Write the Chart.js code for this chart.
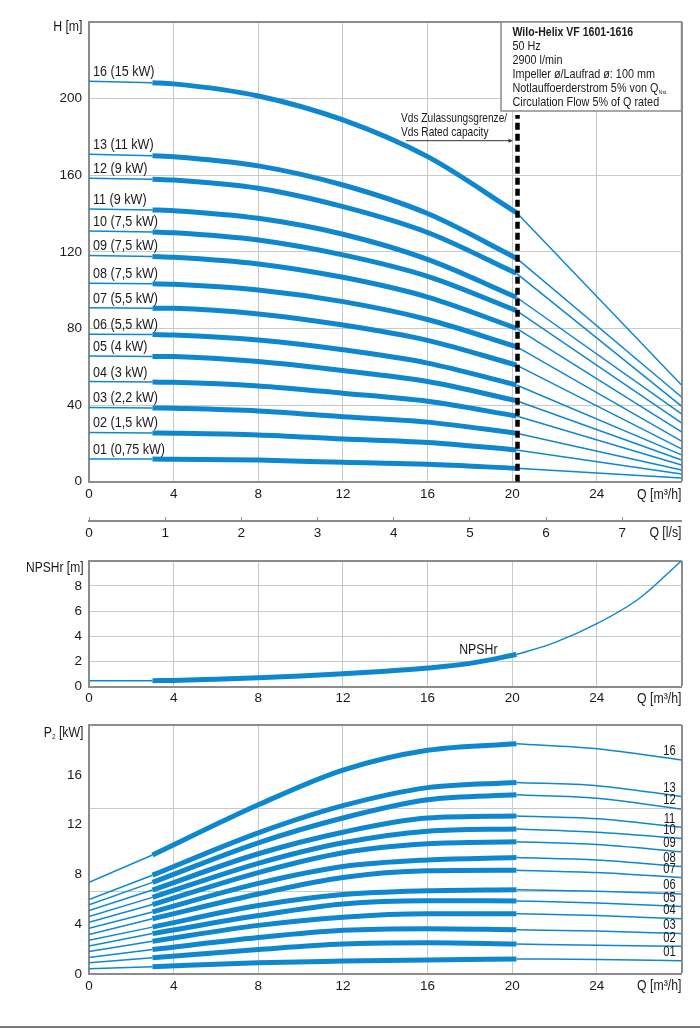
<!DOCTYPE html>
<html><head><meta charset="utf-8">
<script src="https://cdn.jsdelivr.net/npm/chart.js@4"></script>
<style>
html,body{margin:0;padding:0;background:#fff;}
body{width:700px;height:1029px;position:relative;overflow:hidden;}
canvas{position:absolute;left:0;}
#rule{position:absolute;left:0;top:1026px;width:700px;height:2px;background:#7a7a7a;}
</style></head><body>
<canvas id="cH" width="700" height="510" style="top:0px"></canvas>
<canvas id="cL" width="700" height="45" style="top:505px"></canvas>
<canvas id="cN" width="700" height="170" style="top:540px"></canvas>
<canvas id="cP" width="700" height="300" style="top:710px"></canvas>
<div id="rule"></div>
<script>
// ---------------- DATA ----------------
const pumpNames  = ['01','02','03','04','05','06','07','08','09','10','11','12','13','16'];
const motorPower = ['0,75','1,5','2,2','3','4','5,5','5,5','7,5','7,5','7,5','9','9','11','15'];

// Q axis [m3/h]
const qTicks   = [0, 4, 8, 12, 16, 20, 24];
const Q_MAX    = 28;
const lpsTicks = [0, 1, 2, 3, 4, 5, 6, 7];
const Q_MIN_FLOW = 3;     // start of bold (operating) range
const Q_RATED    = 20.2;  // end of bold range
const Q_VDS      = 20.25; // Vds rated capacity line
const VDS_TOP    = 191.5; // top of Vds line [m]

// Head H [m] read at these flows
const qHead  = [0, 3, 4, 8, 12, 16, 20.2, 28];
const head01 = [11.9, 11.8, 11.7, 11.3, 10.1, 9.1, 7.0, 1.9];
const head02 = [25.7, 25.4, 25.3, 24.4, 22.3, 20.5, 16.6, 4.0];
const head03 = [38.8, 38.5, 38.3, 36.9, 33.9, 31.1, 25.3, 6.1];
const head04 = [52.3, 52.0, 51.9, 50.0, 46.2, 42.0, 34.3, 8.7];
const head05 = [65.6, 65.4, 65.3, 62.7, 58.0, 52.3, 42.3, 11.3];
const head06 = [77.0, 76.8, 76.6, 74.0, 68.9, 61.9, 50.5, 14.0];
const head07 = [90.8, 90.6, 90.5, 87.6, 81.8, 73.8, 60.9, 17.1];
const head08 = [103.6, 103.3, 103.1, 100.1, 94.0, 84.7, 70.5, 21.2];
const head09 = [118.1, 117.6, 117.2, 113.7, 106.7, 96.4, 80.1, 26.0];
const head10 = [130.9, 130.4, 130.0, 126.2, 118.4, 107.2, 89.3, 30.7];
const head11 = [142.4, 141.9, 141.5, 137.5, 129.2, 116.1, 96.3, 35.4];
const head12 = [158.4, 157.9, 157.5, 153.2, 143.6, 130.1, 108.8, 39.5];
const head13 = [171.0, 170.2, 169.7, 164.9, 154.9, 140.0, 116.7, 44.2];
const head16 = [209.1, 208.3, 207.7, 201.4, 188.9, 169.7, 140.5, 50.5];
const hTicks = [0, 40, 80, 120, 160, 200];
const H_MAX  = 240;

// NPSHr [m]
const qNpsh  = [0, 3, 4, 6, 8, 10, 12, 14, 16, 18, 20.2, 22, 24, 26, 28];
const npshr  = [0.48, 0.48, 0.5, 0.6, 0.71, 0.85, 1.02, 1.22, 1.48, 1.85, 2.55, 3.5, 5.0, 7.0, 10.0];
const npshTicks = [0, 2, 4, 6, 8];
const NPSH_MAX  = 10;

// Power P2 [kW]
const qPower  = [0, 3, 8, 12, 16, 20.2, 24, 28];
const power01 = [0.44, 0.60, 0.92, 1.05, 1.15, 1.22, 1.19, 1.08];
const power02 = [0.92, 1.32, 1.98, 2.42, 2.52, 2.42, 2.32, 2.25];
const power03 = [1.35, 1.98, 2.94, 3.52, 3.65, 3.57, 3.46, 3.26];
const power04 = [1.82, 2.64, 3.92, 4.58, 4.85, 4.85, 4.71, 4.45];
const power05 = [2.27, 3.26, 4.71, 5.64, 5.90, 5.88, 5.72, 5.43];
const power06 = [2.72, 3.78, 5.51, 6.39, 6.70, 6.78, 6.65, 6.44];
const power07 = [3.18, 4.45, 6.44, 7.76, 8.30, 8.35, 8.16, 7.76];
const power08 = [3.68, 5.00, 7.29, 8.64, 9.17, 9.36, 9.17, 8.64];
const power09 = [4.16, 5.59, 8.16, 9.75, 10.47, 10.63, 10.42, 9.83];
const power10 = [4.64, 6.17, 8.90, 10.55, 11.48, 11.66, 11.40, 10.90];
const power11 = [5.11, 6.76, 9.67, 11.40, 12.54, 12.70, 12.49, 11.80];
const power12 = [5.57, 7.37, 10.55, 12.54, 14.00, 14.40, 14.13, 13.26];
const power13 = [5.99, 7.95, 11.35, 13.53, 14.98, 15.40, 15.14, 14.27];
const power16 = [7.37, 9.57, 13.60, 16.39, 17.98, 18.50, 18.10, 17.19];
const pTicks    = [0, 4, 8, 12, 16];
const pGrid     = [6.67, 13.33];
const P_MAX     = 20;

const headSeries  = [head01, head02, head03, head04, head05, head06, head07, head08, head09, head10, head11, head12, head13, head16];
const powerSeries = [power01, power02, power03, power04, power05, power06, power07, power08, power09, power10, power11, power12, power13, power16];
const curveLabels = pumpNames.map((n, i) => n + ' (' + motorPower[i] + ' kW)');

// ---------------- STYLE ----------------
const FONT  = "'Liberation Sans',Arial,sans-serif";
const BLUE  = '#0e87cf';
const GRID  = '#c9c9c9';
const FRAME = '#8c8c8c';
const TEXT  = '#1a1a1a';
const THIN = 1.5, THICK = 5;
const PLOT_LEFT = 89, PLOT_RIGHT_PAD = 18.5;

Chart.defaults.font.family = FONT;
Chart.defaults.font.size = 13.5;
Chart.defaults.color = TEXT;
Chart.defaults.animation = false;
Chart.defaults.events = [];
Chart.defaults.plugins.legend.display = false;
Chart.defaults.plugins.tooltip.enabled = false;
Chart.defaults.elements.point.radius = 0;
Chart.defaults.elements.line.fill = false;

function curveDatasets(q, v, curvedTail) {
  const pts = q.map((x, i) => ({x: x, y: v[i]}));
  const seg = (a, b) => pts.filter(p => p.x >= a && p.x <= b);
  const tail = curvedTail ? {cubicInterpolationMode: 'monotone'} : {tension: 0};
  return [
    {data: seg(0, Q_MIN_FLOW), borderColor: BLUE, borderWidth: THIN, tension: 0},
    {data: seg(Q_MIN_FLOW, Q_RATED), borderColor: BLUE, borderWidth: THICK, cubicInterpolationMode: 'monotone'},
    Object.assign({data: seg(Q_RATED, Q_MAX), borderColor: BLUE, borderWidth: THIN}, tail)
  ];
}

function xScale(height, pad) {
  return {
    type: 'linear', min: 0, max: Q_MAX,
    afterBuildTicks: s => { s.ticks = qTicks.concat([Q_MAX]).map(v => ({value: v})); },
    ticks: {autoSkip: false, maxRotation: 0, padding: pad, callback: v => (v === Q_MAX ? '' : String(v))},
    grid: {drawTicks: false,
      color: c => (c.tick && c.tick.value === Q_MAX ? FRAME : GRID),
      lineWidth: c => (c.tick && c.tick.value === Q_MAX ? 2 : 1)},
    border: {color: FRAME, width: 2},
    afterFit: s => { s.height = height; }
  };
}
function yScale(max, ticks, gridVisible) {
  return {
    type: 'linear', min: 0, max: max,
    afterBuildTicks: s => { s.ticks = ticks.concat([max]).map(v => ({value: v})); },
    ticks: {padding: 7, callback: v => (v === max ? '' : String(v))},
    grid: {drawTicks: false,
      color: c => (c.tick && c.tick.value === max ? FRAME : (gridVisible ? GRID : 'rgba(0,0,0,0)')),
      lineWidth: c => (c.tick && c.tick.value === max ? 2 : 1)},
    border: {color: FRAME, width: 2},
    afterFit: s => { s.width = PLOT_LEFT; }
  };
}
// condensed text helper (horizontal squeeze sx)
function txt(ctx, s, x, y, size, align, base, sx, weight) {
  ctx.save();
  ctx.font = (weight ? weight + ' ' : '') + size + 'px ' + FONT;
  ctx.textAlign = align; ctx.textBaseline = base; ctx.fillStyle = TEXT;
  ctx.translate(x, y); ctx.scale(sx, 1);
  ctx.fillText(s, 0, 0);
  ctx.restore();
}
function tw(ctx, s, size, sx, weight) {
  ctx.save();
  ctx.font = (weight ? weight + ' ' : '') + size + 'px ' + FONT;
  const w = ctx.measureText(s).width * sx;
  ctx.restore();
  return w;
}
const K = 0.86;

// ---------------- HEAD CHART ----------------
const headPlugin = {
  id: 'headPlugin',
  afterDraw(chart) {
    const {ctx, chartArea: a, scales: {x, y}} = chart;
    headSeries.forEach((h, i) => txt(ctx, curveLabels[i], x.getPixelForValue(0) + 4, y.getPixelForValue(h[0]) - 5, 14.3, 'left', 'alphabetic', 0.88));
    txt(ctx, 'H [m]', a.left - 6.5, a.top + 5.5, 14.3, 'right', 'middle', K);
    txt(ctx, 'Q [m³/h]', a.right, a.bottom + 13, 14.3, 'right', 'middle', K);
    // info box
    const bw = 180.5, bh = 89, bx = a.right - bw, by = a.top;
    ctx.save();
    ctx.fillStyle = '#fff'; ctx.fillRect(bx, by, bw, bh);
    ctx.strokeStyle = FRAME; ctx.lineWidth = 1.5; ctx.strokeRect(bx, by, bw, bh);
    ctx.restore();
    const tx = bx + 11.5, bs = 13.2, bk = 0.82;
    txt(ctx, 'Wilo-Helix VF 1601-1616', tx, by + 10.5, bs, 'left', 'middle', 0.8, 'bold');
    txt(ctx, '50 Hz', tx, by + 24.5, bs, 'left', 'middle', bk);
    txt(ctx, '2900 l/min', tx, by + 38.5, bs, 'left', 'middle', bk);
    txt(ctx, 'Impeller ø/Laufrad ø: 100 mm', tx, by + 52.5, bs, 'left', 'middle', bk);
    const nt = 'Notlauffoerderstrom 5% von Q';
    txt(ctx, nt, tx, by + 66.5, bs, 'left', 'middle', bk);
    txt(ctx, 'Nst.', tx + tw(ctx, nt, bs, bk) + 0.5, by + 70, 6, 'left', 'middle', bk);
    txt(ctx, 'Circulation Flow 5% of Q rated', tx, by + 80.5, bs, 'left', 'middle', bk);
    // Vds annotation
    const vx = x.getPixelForValue(Q_VDS);
    txt(ctx, 'Vds Zulassungsgrenze/', vx - 116.5, by + 96, 13.2, 'left', 'middle', 0.77);
    txt(ctx, 'Vds Rated capacity', vx - 116.5, by + 110.5, 13.2, 'left', 'middle', 0.77);
    const ay = by + 118.7;
    ctx.save();
    ctx.strokeStyle = '#333'; ctx.lineWidth = 1;
    ctx.beginPath(); ctx.moveTo(vx - 111.5, ay); ctx.lineTo(vx - 8, ay); ctx.stroke();
    ctx.fillStyle = '#333';
    ctx.beginPath(); ctx.moveTo(vx - 4.5, ay); ctx.lineTo(vx - 9, ay - 2); ctx.lineTo(vx - 9, ay + 2); ctx.closePath(); ctx.fill();
    ctx.restore();
  }
};

const headDatasets = [{
  data: [{x: Q_VDS, y: 0}, {x: Q_VDS, y: VDS_TOP}],
  borderColor: '#000', borderWidth: 4.5, borderDash: [7, 4], tension: 0, order: -1
}];
headSeries.forEach(h => headDatasets.push(...curveDatasets(qHead, h, false)));

new Chart(document.getElementById('cH'), {
  type: 'line',
  data: {datasets: headDatasets},
  options: {
    responsive: false, devicePixelRatio: 1,
    layout: {padding: {top: 22, right: PLOT_RIGHT_PAD, left: 0, bottom: 0}},
    scales: {x: xScale(510 - 481.7, 4.5), y: yScale(H_MAX, hTicks, true)}
  },
  plugins: [headPlugin]
});

// ---------------- l/s AXIS ----------------
new Chart(document.getElementById('cL'), {
  type: 'line',
  data: {datasets: []},
  options: {
    responsive: false, devicePixelRatio: 1,
    layout: {padding: {top: 12, right: PLOT_RIGHT_PAD, left: PLOT_LEFT, bottom: 0}},
    scales: {
      x: {type: 'linear', min: 0, max: Q_MAX / 3.6,
        afterBuildTicks: s => { s.ticks = lpsTicks.map(v => ({value: v})); },
        ticks: {autoSkip: false, maxRotation: 0, padding: 4},
        grid: {drawTicks: false, color: FRAME, lineWidth: 1},
        border: {color: FRAME, width: 2},
        afterFit: s => { s.height = 45 - 16; }},
      y: {display: false, min: 0, max: 1}
    }
  },
  plugins: [{id: 'lpsTitle', afterDraw(chart) {
    const {ctx, chartArea: a} = chart;
    txt(ctx, 'Q [l/s]', a.right, a.bottom + 12.5, 14.3, 'right', 'middle', K);
  }}]
});

// ---------------- NPSH CHART ----------------
new Chart(document.getElementById('cN'), {
  type: 'line',
  data: {datasets: curveDatasets(qNpsh, npshr, true)},
  options: {
    responsive: false, devicePixelRatio: 1,
    layout: {padding: {top: 20.7, right: PLOT_RIGHT_PAD, left: 0, bottom: 0}},
    scales: {x: xScale(170 - 146.7, 3.5), y: yScale(NPSH_MAX, npshTicks, true)}
  },
  plugins: [{id: 'npshText', afterDraw(chart) {
    const {ctx, chartArea: a, scales: {x, y}} = chart;
    txt(ctx, 'NPSHr [m]', a.left - 5.5, a.top + 7, 14.3, 'right', 'middle', 0.84);
    txt(ctx, 'Q [m³/h]', a.right, a.bottom + 12, 14.3, 'right', 'middle', K);
    txt(ctx, 'NPSHr', x.getPixelForValue(18.4), y.getPixelForValue(2.9), 14.3, 'center', 'middle', K);
  }}]
});

// ---------------- POWER CHART ----------------
const powerDatasets = [];
powerSeries.forEach(p => powerDatasets.push(...curveDatasets(qPower, p, true)));
const pScales = {
  x: xScale(300 - 264.2, 4),
  y: yScale(P_MAX, pTicks, false),
  yGrid: {type: 'linear', min: 0, max: P_MAX, position: 'left',
    afterBuildTicks: s => { s.ticks = pGrid.map(v => ({value: v})); },
    ticks: {display: false}, grid: {drawTicks: false, color: GRID, lineWidth: 1},
    border: {display: false}, afterFit: s => { s.width = 0; }}
};
new Chart(document.getElementById('cP'), {
  type: 'line',
  data: {datasets: powerDatasets},
  options: {
    responsive: false, devicePixelRatio: 1,
    layout: {padding: {top: 12.7, right: PLOT_RIGHT_PAD, left: 0, bottom: 0}},
    scales: pScales
  },
  plugins: [{id: 'powerText', afterDraw(chart) {
    const {ctx, chartArea: a, scales: {x, y}} = chart;
    const wP = tw(ctx, 'P', 14.3, K), w2 = tw(ctx, '2', 7.5, K), wK = tw(ctx, ' [kW]', 14.3, K);
    const x0 = a.left - 5.5 - (wP + w2 + wK), ty = a.top + 7.5;
    txt(ctx, 'P', x0, ty, 14.3, 'left', 'middle', K);
    txt(ctx, '2', x0 + wP, ty + 4, 7.5, 'left', 'middle', K);
    txt(ctx, ' [kW]', x0 + wP + w2, ty, 14.3, 'left', 'middle', K);
    txt(ctx, 'Q [m³/h]', a.right, a.bottom + 12, 14.3, 'right', 'middle', K);
    powerSeries.forEach((p, i) => txt(ctx, pumpNames[i], a.right - 12, y.getPixelForValue(p[p.length - 1]) - 8.5, 14, 'center', 'middle', 0.8));
  }}]
});
</script>
</body></html>
